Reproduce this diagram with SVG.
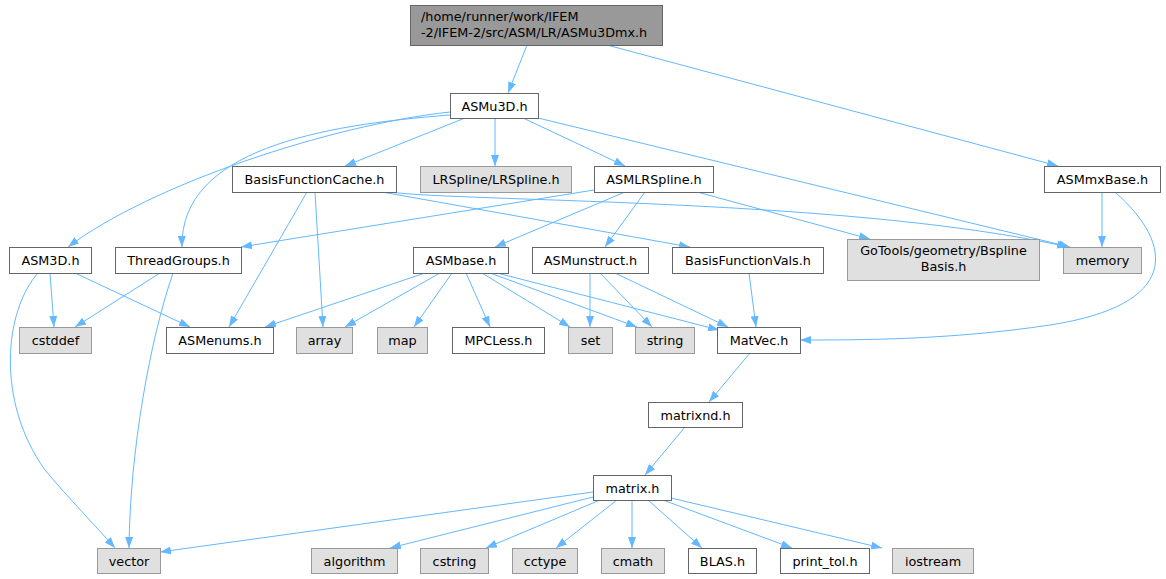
<svg xmlns="http://www.w3.org/2000/svg" width="1166" height="579" viewBox="0 0 1166 579">
<defs>
<style>
.n rect{fill:#fff;stroke:#666;stroke-width:1}
.x rect{fill:#e0e0e0;stroke:#999;stroke-width:1}
.r rect{fill:#999;stroke:#666;stroke-width:1}
text{font-family:"DejaVu Sans","Liberation Sans",sans-serif;font-size:12.8px;fill:#000;text-anchor:middle}
.e path{fill:none;stroke:#63b8ff;stroke-width:1;marker-end:url(#a)}
</style>
<marker id="a" markerUnits="userSpaceOnUse" markerWidth="11" markerHeight="8" refX="11" refY="4" orient="auto">
<path d="M0,0 L11,4 L0,8 z" fill="#63b8ff" stroke="none"/>
</marker>
</defs>
<rect width="1166" height="579" fill="#fff"/>
<g id="edges" class="e">
<path d="M527,45 L508,93"/>
<path d="M607,45 L1058,166"/>
<path d="M450,112 C 330,125 150,185 68,247"/>
<path d="M450,115 C 320,125 180,150 182,247"/>
<path d="M465,118 L345,166"/>
<path d="M495,118 L495,166"/>
<path d="M523,118 L625,166"/>
<path d="M538,118 L1070,247"/>
<path d="M1102,192 L1102,247"/>
<path d="M1115,192 C 1175,245 1180,305 1050,325 C 950,340 860,340 800,340"/>
<path d="M307,192 L229,327"/>
<path d="M315,192 L323,327"/>
<path d="M382,192 L690,247"/>
<path d="M390,192 C 460,202 850,198 1068,247"/>
<path d="M594,190 L241,247"/>
<path d="M625,192 L495,247"/>
<path d="M645,192 L605,247"/>
<path d="M697,192 L870,239"/>
<path d="M50,273 L54,327"/>
<path d="M75,273 L190,327"/>
<path d="M38,273 C 5,310 -5,400 45,470 C 70,500 95,525 115,548"/>
<path d="M160,273 L75,327"/>
<path d="M173,273 C 150,340 130,450 129,548"/>
<path d="M425,273 L265,327"/>
<path d="M440,273 L345,327"/>
<path d="M452,273 L414,327"/>
<path d="M466,273 L490,327"/>
<path d="M482,273 L570,327"/>
<path d="M490,273 L637,327"/>
<path d="M497,273 L719,330"/>
<path d="M590,273 L590,327"/>
<path d="M600,273 L652,327"/>
<path d="M615,273 L728,327"/>
<path d="M749,273 L756,327"/>
<path d="M750,353 L709,402"/>
<path d="M685,427 L645,475"/>
<path d="M593,492 L160,552"/>
<path d="M593,497 L390,548"/>
<path d="M600,500 L486,548"/>
<path d="M617,500 L556,548"/>
<path d="M632,500 L632,548"/>
<path d="M648,500 L702,548"/>
<path d="M663,500 L792,548"/>
<path d="M671,498 L882,548"/>
</g>
<g id="root" class="r"><rect x="410.5" y="5.5" width="252" height="40"/><text x="421" y="21" style="text-anchor:start">/home/runner/work/IFEM</text><text x="421" y="37" style="text-anchor:start">-2/IFEM-2/src/ASM/LR/ASMu3Dmx.h</text></g>
<g id="ASMu3D" class="n"><rect x="450.5" y="93.5" width="88" height="25"/><text x="494.5" y="110.5">ASMu3D.h</text></g>
<g id="ASMmxBase" class="n"><rect x="1044.5" y="166.5" width="116" height="26"/><text x="1102.5" y="184">ASMmxBase.h</text></g>
<g id="BasisFunctionCache" class="n"><rect x="232.5" y="166.5" width="164" height="26"/><text x="314.5" y="184">BasisFunctionCache.h</text></g>
<g id="LRSpline" class="x"><rect x="420.5" y="166.5" width="151" height="26"/><text x="496" y="184">LRSpline/LRSpline.h</text></g>
<g id="ASMLRSpline" class="n"><rect x="594.5" y="166.5" width="119" height="26"/><text x="654" y="184">ASMLRSpline.h</text></g>
<g id="ASM3D" class="n"><rect x="9.5" y="247.5" width="82" height="26"/><text x="50.5" y="265">ASM3D.h</text></g>
<g id="ThreadGroups" class="n"><rect x="115.5" y="247.5" width="126" height="26"/><text x="178.5" y="265">ThreadGroups.h</text></g>
<g id="ASMbase" class="n"><rect x="413.5" y="247.5" width="95" height="26"/><text x="461" y="265">ASMbase.h</text></g>
<g id="ASMunstruct" class="n"><rect x="532.5" y="247.5" width="116" height="26"/><text x="590.5" y="265">ASMunstruct.h</text></g>
<g id="BasisFunctionVals" class="n"><rect x="672.5" y="247.5" width="151" height="26"/><text x="748" y="265">BasisFunctionVals.h</text></g>
<g id="GoTools" class="x"><rect x="847.5" y="239.5" width="192" height="41"/><text x="943.5" y="255">GoTools/geometry/Bspline</text><text x="943.5" y="271">Basis.h</text></g>
<g id="memory" class="x"><rect x="1063.5" y="247.5" width="78" height="26"/><text x="1102.5" y="265">memory</text></g>
<g id="cstddef" class="x"><rect x="19.5" y="327.5" width="72" height="26"/><text x="55.5" y="345">cstddef</text></g>
<g id="ASMenums" class="n"><rect x="166.5" y="327.5" width="107" height="26"/><text x="220" y="345">ASMenums.h</text></g>
<g id="array" class="x"><rect x="296.5" y="327.5" width="56" height="26"/><text x="324.5" y="345">array</text></g>
<g id="map" class="x"><rect x="377.5" y="327.5" width="50" height="26"/><text x="402.5" y="345">map</text></g>
<g id="MPCLess" class="n"><rect x="452.5" y="327.5" width="92" height="26"/><text x="498.5" y="345">MPCLess.h</text></g>
<g id="set" class="x"><rect x="568.5" y="327.5" width="44" height="26"/><text x="590.5" y="345">set</text></g>
<g id="string" class="x"><rect x="635.5" y="327.5" width="59" height="26"/><text x="665" y="345">string</text></g>
<g id="MatVec" class="n"><rect x="717.5" y="327.5" width="83" height="26"/><text x="759" y="345">MatVec.h</text></g>
<g id="matrixnd" class="n"><rect x="648.5" y="402.5" width="94" height="25"/><text x="695.5" y="419.5">matrixnd.h</text></g>
<g id="matrix" class="n"><rect x="593.5" y="475.5" width="78" height="25"/><text x="632.5" y="492.5">matrix.h</text></g>
<g id="vector" class="x"><rect x="97.5" y="548.5" width="63" height="25"/><text x="129" y="565.5">vector</text></g>
<g id="algorithm" class="x"><rect x="311.5" y="548.5" width="86" height="25"/><text x="354.5" y="565.5">algorithm</text></g>
<g id="cstring" class="x"><rect x="420.5" y="548.5" width="68" height="25"/><text x="454.5" y="565.5">cstring</text></g>
<g id="cctype" class="x"><rect x="512.5" y="548.5" width="65" height="25"/><text x="545" y="565.5">cctype</text></g>
<g id="cmath" class="x"><rect x="601.5" y="548.5" width="63" height="25"/><text x="633" y="565.5">cmath</text></g>
<g id="BLAS" class="n"><rect x="688.5" y="548.5" width="68" height="25"/><text x="722.5" y="565.5">BLAS.h</text></g>
<g id="print_tol" class="n"><rect x="780.5" y="548.5" width="89" height="25"/><text x="825" y="565.5">print_tol.h</text></g>
<g id="iostream" class="x"><rect x="892.5" y="548.5" width="81" height="25"/><text x="933" y="565.5">iostream</text></g>
</svg>
